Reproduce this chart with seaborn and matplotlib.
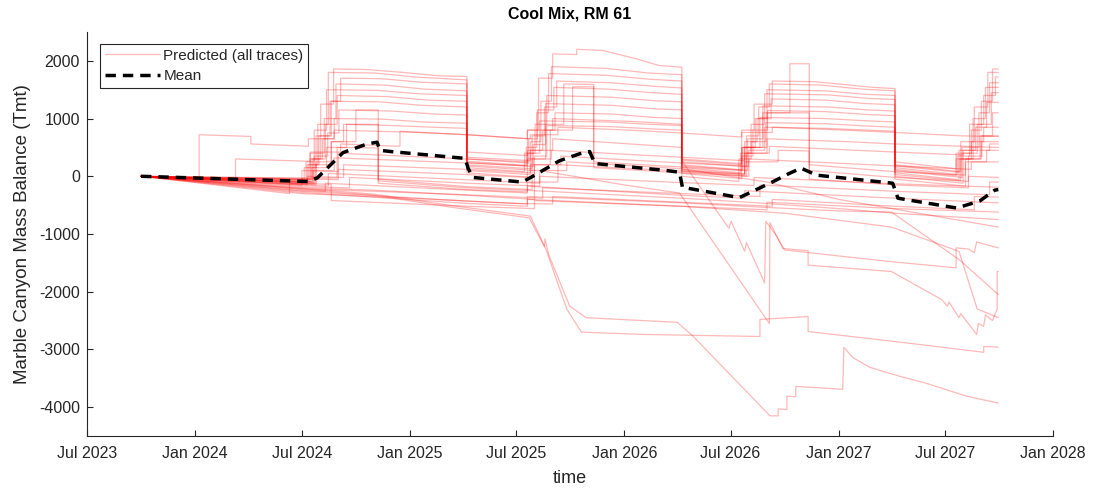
import matplotlib
matplotlib.use("Agg")
import matplotlib.pyplot as plt
import matplotlib.dates as mdates
from matplotlib.lines import Line2D
import pandas as pd
import seaborn as sns

# ---- predicted mass-balance traces: (yy-mm-dd, Tmt) breakpoints ----
trace_h1 = [("23-10-01", 0), ("24-07-18", -60), ("24-07-18", 300), ("24-08-02", 300), ("24-08-02", 1250),
            ("24-08-24", 1250), ("24-08-24", 1860), ("24-10-20", 1850), ("24-12-20", 1800), ("25-02-20", 1740),
            ("25-04-08", 1730), ("25-04-08", 420), ("25-07-20", 360), ("25-07-20", 800), ("25-08-08", 800),
            ("25-08-08", 1700), ("25-09-01", 1700), ("25-09-01", 2120), ("25-10-12", 2110), ("25-10-12", 2200),
            ("25-11-25", 2180), ("26-01-20", 2040), ("26-03-01", 1920), ("26-04-09", 1890), ("26-04-09", 300),
            ("26-07-20", 220), ("26-07-20", 800), ("26-08-10", 800), ("26-08-10", 1250), ("26-09-10", 1250),
            ("26-09-10", 1650), ("26-11-20", 1640), ("27-01-20", 1580), ("27-03-01", 1540), ("27-04-07", 1520),
            ("27-04-07", 250), ("27-07-20", 130), ("27-07-20", 400), ("27-08-15", 400), ("27-08-15", 800),
            ("27-09-01", 800), ("27-09-01", 1300), ("27-09-20", 1300), ("27-09-20", 1860), ("27-09-30", 1860)]
trace_h2 = [("23-10-01", 0), ("24-07-12", -70), ("24-07-12", 200), ("24-07-28", 200), ("24-07-28", 900),
            ("24-08-15", 900), ("24-08-15", 1800), ("24-11-01", 1790), ("25-01-10", 1720), ("25-04-08", 1670),
            ("25-04-08", 330), ("25-07-25", 270), ("25-07-25", 600), ("25-08-12", 600), ("25-08-12", 1300),
            ("25-08-30", 1300), ("25-08-30", 1900), ("25-12-01", 1870), ("26-02-10", 1790), ("26-04-09", 1760),
            ("26-04-09", 250), ("26-07-28", 170), ("26-07-28", 700), ("26-08-18", 700), ("26-08-18", 1200),
            ("26-09-05", 1200), ("26-09-05", 1600), ("26-12-01", 1580), ("27-02-10", 1510), ("27-04-07", 1480),
            ("27-04-07", 200), ("27-07-28", 80), ("27-07-28", 600), ("27-08-20", 600), ("27-08-20", 1200),
            ("27-09-12", 1200), ("27-09-12", 1800), ("27-09-30", 1800)]
trace_h3 = [("23-10-01", 0), ("24-07-05", -40), ("24-07-05", 150), ("24-07-25", 150), ("24-07-25", 700),
            ("24-08-20", 700), ("24-08-20", 1300), ("24-09-05", 1300), ("24-09-05", 1700), ("24-11-15", 1690),
            ("25-01-20", 1630), ("25-04-08", 1600), ("25-04-08", 260), ("25-07-18", 190), ("25-07-18", 500),
            ("25-08-05", 500), ("25-08-05", 1100), ("25-08-25", 1100), ("25-08-25", 1780), ("25-12-01", 1750),
            ("26-02-15", 1680), ("26-04-09", 1650), ("26-04-09", 200), ("26-07-22", 110), ("26-07-22", 500),
            ("26-08-12", 500), ("26-08-12", 1000), ("26-09-01", 1000), ("26-09-01", 1500), ("26-12-10", 1480),
            ("27-02-15", 1420), ("27-04-07", 1400), ("27-04-07", 150), ("27-07-22", 30), ("27-07-22", 350),
            ("27-08-12", 350), ("27-08-12", 900), ("27-09-05", 900), ("27-09-05", 1400), ("27-09-25", 1400),
            ("27-09-25", 1720), ("27-09-30", 1720)]
trace_h4 = [("23-10-01", 0), ("24-07-15", -90), ("24-07-15", 400), ("24-08-08", 400), ("24-08-08", 1000),
            ("24-08-28", 1000), ("24-08-28", 1600), ("24-11-20", 1580), ("25-01-25", 1510), ("25-04-08", 1480),
            ("25-04-08", 200), ("25-07-28", 130), ("25-07-28", 700), ("25-08-18", 700), ("25-08-18", 1200),
            ("25-09-08", 1200), ("25-09-08", 1650), ("25-12-10", 1620), ("26-02-20", 1560), ("26-04-09", 1530),
            ("26-04-09", 150), ("26-07-18", 60), ("26-07-18", 400), ("26-08-05", 400), ("26-08-05", 900),
            ("26-08-28", 900), ("26-08-28", 1430), ("26-12-15", 1410), ("27-02-20", 1350), ("27-04-07", 1330),
            ("27-04-07", 100), ("27-07-30", -20), ("27-07-30", 500), ("27-08-28", 500), ("27-08-28", 1100),
            ("27-09-15", 1100), ("27-09-15", 1620), ("27-09-30", 1620)]
trace_h5 = [("23-10-01", 0), ("24-07-08", -30), ("24-07-08", 250), ("24-07-22", 250), ("24-07-22", 800),
            ("24-08-12", 800), ("24-08-12", 1500), ("24-11-05", 1490), ("25-01-15", 1430), ("25-04-08", 1400),
            ("25-04-08", 300), ("25-07-22", 230), ("25-07-22", 650), ("25-08-06", 650), ("25-08-06", 1150),
            ("25-09-03", 1150), ("25-09-03", 1540), ("25-12-05", 1510), ("26-02-15", 1450), ("26-04-09", 1420),
            ("26-04-09", 100), ("26-07-25", 20), ("26-07-25", 600), ("26-08-15", 600), ("26-08-15", 1000),
            ("26-09-08", 1000), ("26-09-08", 1340), ("26-12-10", 1320), ("27-02-15", 1260), ("27-04-07", 1240),
            ("27-04-07", 60), ("27-07-25", -60), ("27-07-25", 300), ("27-08-18", 300), ("27-08-18", 1000),
            ("27-09-08", 1000), ("27-09-08", 1540), ("27-09-30", 1540)]
trace_h6 = [("23-10-01", 0), ("24-07-20", -110), ("24-07-20", 300), ("24-08-10", 300), ("24-08-10", 900),
            ("24-08-30", 900), ("24-08-30", 1400), ("24-11-25", 1380), ("25-02-01", 1320), ("25-04-08", 1300),
            ("25-04-08", 150), ("25-07-15", 80), ("25-07-15", 400), ("25-08-02", 400), ("25-08-02", 900),
            ("25-08-22", 900), ("25-08-22", 1400), ("25-12-10", 1370), ("26-02-20", 1310), ("26-04-09", 1290),
            ("26-04-09", 180), ("26-07-30", 100), ("26-07-30", 650), ("26-08-25", 650), ("26-08-25", 1220),
            ("26-12-15", 1200), ("27-02-20", 1150), ("27-04-07", 1130), ("27-04-07", 0), ("27-08-01", -120),
            ("27-08-01", 400), ("27-08-25", 400), ("27-08-25", 900), ("27-09-18", 900), ("27-09-18", 1450),
            ("27-09-30", 1450)]
trace_h7 = [("23-10-01", 0), ("24-07-10", -60), ("24-07-10", 200), ("24-07-30", 200), ("24-07-30", 700),
            ("24-08-18", 700), ("24-08-18", 1300), ("24-11-10", 1290), ("25-01-20", 1230), ("25-04-08", 1200),
            ("25-04-08", 240), ("25-07-30", 170), ("25-07-30", 550), ("25-08-20", 550), ("25-08-20", 1260),
            ("25-12-10", 1230), ("26-02-20", 1170), ("26-04-09", 1150), ("26-04-09", 50), ("26-07-20", -40),
            ("26-07-20", 350), ("26-08-08", 350), ("26-08-08", 800), ("26-09-02", 800), ("26-09-02", 1140),
            ("26-12-10", 1120), ("27-02-20", 1070), ("27-04-07", 1050), ("27-04-07", 180), ("27-07-25", 70),
            ("27-07-25", 450), ("27-08-22", 450), ("27-08-22", 850), ("27-09-10", 850), ("27-09-10", 1280),
            ("27-09-30", 1280)]
trace_h8 = [("23-10-01", 0), ("24-07-22", -130), ("24-07-22", 350), ("24-08-14", 350), ("24-08-14", 750),
            ("24-09-02", 750), ("24-09-02", 1150), ("24-12-01", 1130), ("25-02-10", 1080), ("25-04-08", 1060),
            ("25-04-08", 100), ("25-07-25", 30), ("25-07-25", 450), ("25-08-15", 450), ("25-08-15", 800),
            ("25-09-05", 800), ("25-09-05", 1100), ("25-12-10", 1080), ("26-02-20", 1020), ("26-04-09", 1000),
            ("26-04-09", 120), ("26-07-25", 40), ("26-07-25", 500), ("26-08-20", 500), ("26-08-20", 1020),
            ("26-12-10", 1000), ("27-02-20", 960), ("27-04-07", 940), ("27-04-07", -50), ("27-08-05", -170),
            ("27-08-05", 300), ("27-08-30", 300), ("27-08-30", 700), ("27-09-20", 700), ("27-09-20", 1100),
            ("27-09-30", 1100)]
trace_h9 = [("23-10-01", 0), ("24-07-15", -50), ("24-07-15", 300), ("24-08-05", 300), ("24-08-05", 650),
            ("24-08-25", 650), ("24-08-25", 1000), ("24-11-15", 990), ("25-01-25", 940), ("25-04-08", 920),
            ("25-04-08", 180), ("25-07-20", 110), ("25-07-20", 400), ("25-08-10", 400), ("25-08-10", 960),
            ("25-12-05", 940), ("26-02-15", 900), ("26-04-09", 880), ("26-04-09", 0), ("26-07-15", -90),
            ("26-07-15", 300), ("26-08-05", 300), ("26-08-05", 600), ("26-08-30", 600), ("26-08-30", 930),
            ("26-12-10", 910), ("27-02-20", 870), ("27-04-07", 850), ("27-04-07", 120), ("27-07-20", 10),
            ("27-07-20", 300), ("27-08-15", 300), ("27-08-15", 600), ("27-09-05", 600), ("27-09-05", 850),
            ("27-09-30", 850)]
trace_h10 = [("23-10-01", 0), ("24-07-25", -150), ("24-07-25", 250), ("24-08-20", 250), ("24-08-20", 600),
             ("24-09-10", 600), ("24-09-10", 900), ("24-12-01", 880), ("25-02-10", 850), ("25-04-08", 830),
             ("25-04-08", 60), ("25-08-01", -20), ("25-08-01", 350), ("25-08-22", 350), ("25-08-22", 880),
             ("25-12-10", 860), ("26-02-20", 820), ("26-04-09", 800), ("26-04-09", 80), ("26-08-01", 0),
             ("26-08-01", 450), ("26-08-28", 450), ("26-08-28", 850), ("26-12-10", 830), ("27-02-20", 800),
             ("27-04-07", 780), ("27-04-07", 30), ("27-08-10", -90), ("27-08-10", 350), ("27-09-02", 350),
             ("27-09-02", 700), ("27-09-30", 700)]
trace_m1 = [("23-10-01", 0), ("24-07-25", -120), ("24-07-25", 200), ("24-08-20", 200), ("24-08-20", 600),
            ("24-10-01", 600), ("24-10-01", 1150), ("24-11-08", 1150), ("24-11-08", -50), ("25-04-08", -180),
            ("25-07-28", -230), ("25-07-28", 300), ("25-08-20", 300), ("25-08-20", 900), ("25-09-20", 900),
            ("25-09-20", 1600), ("25-11-10", 1590), ("25-11-10", 150), ("26-04-09", 60), ("26-07-28", 0),
            ("26-07-28", 400), ("26-09-01", 400), ("26-09-01", 1100), ("26-10-10", 1100), ("26-10-10", 1950),
            ("26-11-12", 1950), ("26-11-12", 100), ("27-04-07", -20), ("27-07-28", -80), ("27-07-28", 300),
            ("27-09-01", 300), ("27-09-01", 600), ("27-09-30", 600)]
trace_m2 = [("23-10-01", 0), ("24-07-18", -90), ("24-07-18", 150), ("24-08-12", 150), ("24-08-12", 500),
            ("24-09-15", 500), ("24-09-15", 900), ("24-11-08", 900), ("24-11-08", -80), ("25-04-08", -200),
            ("25-08-01", -250), ("25-08-01", 200), ("25-08-28", 200), ("25-08-28", 800), ("25-10-05", 800),
            ("25-10-05", 1550), ("25-11-10", 1550), ("25-11-10", 250), ("26-04-09", 160), ("26-07-20", 100),
            ("26-07-20", 500), ("26-08-25", 500), ("26-08-25", 1100), ("26-11-12", 1100), ("26-11-12", 200),
            ("27-04-07", 80), ("27-08-05", 20), ("27-08-05", 250), ("27-09-10", 250), ("27-09-10", 450),
            ("27-09-30", 450)]
trace_m3 = [("23-10-01", 0), ("24-01-08", -30), ("24-01-08", 720), ("24-04-05", 690), ("24-04-05", 560),
            ("24-07-12", 520), ("24-07-12", 650), ("24-08-25", 650), ("24-08-25", 800), ("25-01-15", 760),
            ("25-04-08", 720), ("25-07-20", 650), ("25-07-20", 800), ("25-09-01", 800), ("25-09-01", 1000),
            ("26-01-15", 950), ("26-04-09", 900), ("26-04-09", 280), ("26-07-20", 200), ("26-07-20", 500),
            ("26-09-01", 500), ("26-09-01", 650), ("27-01-15", 600), ("27-04-07", 560), ("27-09-30", 500)]
trace_m4 = [("23-10-01", 0), ("24-03-10", -60), ("24-03-10", 300), ("24-07-15", 260), ("24-07-15", 420),
            ("24-09-05", 420), ("24-09-05", 560), ("24-12-15", 520), ("24-12-15", 780), ("25-04-08", 720),
            ("25-07-25", 650), ("25-07-25", 720), ("25-09-10", 720), ("25-09-10", 850), ("26-01-10", 800),
            ("26-04-09", 750), ("26-07-20", 680), ("26-07-20", 760), ("26-09-10", 760), ("26-09-10", 850),
            ("27-01-10", 800), ("27-04-07", 760), ("27-07-30", 700), ("27-09-30", 690)]
trace_m5 = [("23-10-01", 0), ("24-07-20", -100), ("24-07-20", 100), ("24-08-25", 100), ("24-08-25", 320),
            ("25-04-08", 230), ("25-07-20", 180), ("25-07-20", 300), ("25-08-30", 300), ("25-08-30", 450),
            ("26-04-09", 330), ("26-07-25", 270), ("26-07-25", 400), ("26-09-05", 400), ("26-09-05", 520),
            ("27-04-07", 420), ("27-08-01", 370), ("27-08-01", 450), ("27-09-15", 450), ("27-09-15", 560),
            ("27-09-30", 560)]
trace_m6 = [("23-10-01", 0), ("24-07-10", -150), ("24-07-10", -30), ("24-08-30", -30), ("24-08-30", 500),
            ("24-11-08", 490), ("24-11-08", -120), ("25-04-08", -230), ("25-07-20", -270), ("25-07-20", -100),
            ("25-09-10", -100), ("25-09-10", 200), ("26-04-09", 90), ("26-07-25", 40), ("26-07-25", 250),
            ("26-09-20", 250), ("26-09-20", 450), ("26-11-12", 440), ("26-11-12", -50), ("27-04-07", -150),
            ("27-08-10", -200), ("27-08-10", 0), ("27-09-30", -20)]
trace_l1 = [("23-10-01", 0), ("24-07-10", -130), ("24-07-10", 0), ("24-09-10", -20), ("24-09-10", 200),
            ("25-04-08", 120), ("25-07-25", 60), ("25-07-25", 200), ("25-09-15", 200), ("25-09-15", 350),
            ("26-04-09", 230), ("26-08-01", 170), ("26-08-01", 300), ("27-04-07", 180), ("27-08-15", 120),
            ("27-08-15", 250), ("27-09-30", 250)]
trace_l2 = [("23-10-01", 0), ("24-07-01", -180), ("24-09-20", -200), ("24-09-20", -20), ("25-04-08", -120),
            ("25-08-10", -170), ("25-08-10", 0), ("26-04-09", -110), ("26-08-10", -160), ("26-08-10", -20),
            ("27-04-07", -130), ("27-09-30", -190)]
trace_l3 = [("23-10-01", 0), ("24-07-01", -220), ("24-11-01", -260), ("25-04-08", -320), ("25-08-15", -380),
            ("25-08-15", -200), ("26-04-09", -300), ("26-08-20", -350), ("26-08-20", -150), ("27-04-07", -260),
            ("27-09-15", -320), ("27-09-15", -100), ("27-09-30", -100)]
trace_l4 = [("23-10-01", 0), ("24-07-01", -250), ("24-08-10", -260), ("24-08-10", -120), ("25-04-08", -240),
            ("25-07-20", -290), ("25-07-20", -170), ("26-04-09", -330), ("26-07-25", -380), ("26-07-25", -250),
            ("27-04-07", -380), ("27-09-30", -460)]
trace_l5 = [("23-10-01", 0), ("24-06-10", -300), ("24-06-10", -120), ("24-08-20", -140), ("24-08-20", -420),
            ("25-04-08", -520), ("25-08-01", -560), ("25-08-01", -420), ("26-04-09", -520), ("26-09-01", -580),
            ("26-09-01", -450), ("27-04-07", -560), ("27-09-30", -620)]
trace_l6 = [("23-10-01", 0), ("24-07-01", -300), ("25-01-01", -380), ("25-07-01", -470), ("25-09-01", -480),
            ("25-09-01", -350), ("26-04-09", -450), ("26-09-10", -520), ("26-09-10", -400), ("27-04-07", -520),
            ("27-08-20", -580), ("27-08-20", -350), ("27-09-30", -360)]
trace_l7 = [("23-10-01", 0), ("24-07-01", -200), ("24-11-01", -240), ("25-04-08", -330), ("25-08-01", -400),
            ("25-08-01", -250), ("26-04-09", -380), ("26-08-01", -450), ("27-01-01", -560), ("27-04-07", -640),
            ("27-09-30", -750)]
trace_l8 = [("23-10-01", 0), ("24-07-01", -160), ("24-07-01", -40), ("24-09-01", -60), ("24-09-01", 120),
            ("25-04-08", 30), ("25-07-20", -20), ("25-07-20", 100), ("25-09-25", 100), ("25-09-25", 250),
            ("26-04-09", 130), ("26-09-01", -100), ("27-01-01", -400), ("27-09-30", -880)]
trace_d1 = [("23-10-01", 0), ("24-07-01", -230), ("24-11-01", -330), ("25-03-08", -530), ("25-07-23", -720),
            ("25-08-18", -1220), ("25-08-19", -1080), ("25-08-25", -1350), ("25-09-30", -2250), ("25-10-28", -2450),
            ("26-04-01", -2530), ("26-04-28", -2770), ("26-09-06", -4150), ("26-09-20", -4150), ("26-09-20", -4030),
            ("26-10-05", -4040), ("26-10-05", -3810), ("26-10-20", -3820), ("26-10-20", -3640), ("27-01-08", -3690),
            ("27-01-10", -2965), ("27-01-25", -3140), ("27-02-23", -3310), ("27-04-20", -3480), ("27-05-25", -3570),
            ("27-08-07", -3810), ("27-09-30", -3930)]
trace_d2 = [("23-10-01", 0), ("24-07-01", -210), ("24-11-01", -310), ("25-03-08", -500), ("25-07-25", -690),
            ("25-08-20", -1250), ("25-09-25", -2300), ("25-10-20", -2700), ("26-02-01", -2740), ("26-08-20", -2776),
            ("26-08-20", -2480), ("26-11-10", -2430), ("26-11-10", -2690), ("27-03-01", -2820), ("27-06-01", -2930),
            ("27-09-05", -3050), ("27-09-05", -2950), ("27-09-30", -2960)]
trace_d3 = [("23-10-01", 0), ("24-07-01", -150), ("24-08-15", -170), ("24-08-15", 50), ("25-04-08", -60),
            ("25-08-10", -120), ("25-08-10", 100), ("26-01-01", -150), ("26-04-05", -290), ("26-09-05", -2550),
            ("26-09-06", -800), ("26-09-28", -1250), ("26-11-10", -1290), ("26-11-10", -1540), ("27-01-01", -1580),
            ("27-04-01", -1650), ("27-06-26", -2140), ("27-07-05", -2250), ("27-07-08", -2180), ("27-07-25", -2450),
            ("27-07-28", -2380), ("27-08-24", -2740), ("27-08-27", -2550), ("27-09-05", -2600), ("27-09-08", -2400),
            ("27-09-20", -2500), ("27-09-28", -2300), ("27-09-28", -1650), ("27-09-30", -1650)]
trace_d4 = [("23-10-01", 0), ("24-07-01", -100), ("24-07-01", 100), ("24-09-01", 80), ("24-09-01", 400),
            ("25-04-08", 300), ("25-07-20", 250), ("25-07-20", 450), ("25-09-01", 450), ("25-09-01", 650),
            ("26-04-09", 500), ("26-04-09", 270), ("26-06-28", -900), ("26-07-02", -780), ("26-07-25", -1300),
            ("26-07-28", -1150), ("26-08-28", -1850), ("26-08-30", -780), ("26-09-15", -1000), ("26-10-01", -1276),
            ("27-01-01", -1380), ("27-04-01", -1480), ("27-07-20", -1586), ("27-07-20", -1240), ("27-08-10", -1260),
            ("27-08-20", -1320), ("27-08-24", -1140), ("27-09-30", -1240)]
trace_d5 = [("23-10-01", 0), ("24-07-01", -260), ("25-04-08", -430), ("25-07-20", -480), ("25-07-20", -350),
            ("26-04-09", -460), ("26-09-01", -540), ("27-01-01", -600), ("27-04-01", -620), ("27-07-26", -1450),
            ("27-09-30", -2050)]
trace_d6 = [("23-10-01", 0), ("24-07-01", -280), ("25-04-08", -470), ("25-07-20", -520), ("25-07-20", -400),
            ("26-04-09", -520), ("26-10-01", -640), ("27-04-01", -880), ("27-07-25", -1300), ("27-08-25", -2300),
            ("27-09-30", -2450)]

# ---- ensemble mean ----
mean_pts = [("23-10-01", 0), ("24-07-11", -90), ("24-07-27", -30), ("24-09-09", 410), ("24-10-20", 560),
            ("24-11-06", 590), ("24-11-11", 450), ("24-11-28", 430), ("25-04-05", 310), ("25-04-10", 140),
            ("25-04-18", -20), ("25-07-11", -100), ("25-07-24", -30), ("25-09-13", 270), ("25-10-17", 390),
            ("25-11-03", 430), ("25-11-12", 220), ("26-03-14", 100), ("26-04-05", 70), ("26-04-10", -190),
            ("26-07-16", -370), ("26-09-10", -100), ("26-10-09", 50), ("26-10-29", 140), ("26-11-07", 100),
            ("26-11-24", 20), ("27-04-03", -120), ("27-04-12", -380), ("27-07-21", -550), ("27-08-29", -430),
            ("27-09-24", -240), ("27-09-30", -230)]

x_ticks = ["2023-07-01", "2024-01-01", "2024-07-01", "2025-01-01", "2025-07-01",
           "2026-01-01", "2026-07-01", "2027-01-01", "2027-07-01", "2028-01-01"]
y_ticks = [-4000, -3000, -2000, -1000, 0, 1000, 2000]

all_traces = [trace_h1, trace_h2, trace_h3, trace_h4, trace_h5, trace_h6, trace_h7, trace_h8, trace_h9,
              trace_h10, trace_m1, trace_m2, trace_m3, trace_m4, trace_m5, trace_m6, trace_l1, trace_l2,
              trace_l3, trace_l4, trace_l5, trace_l6, trace_l7, trace_l8, trace_d1, trace_d2, trace_d3,
              trace_d4, trace_d5, trace_d6]

rows = []
for i, tr in enumerate(all_traces):
    for d, v in tr:
        rows.append((i, d, v))
traces = pd.DataFrame(rows, columns=["trace", "date", "value"])
traces["date"] = pd.to_datetime(traces["date"], format="%y-%m-%d")
mean_df = pd.DataFrame(mean_pts, columns=["date", "value"])
mean_df["date"] = pd.to_datetime(mean_df["date"], format="%y-%m-%d")

sns.set_theme(style="white")
plt.rcParams["font.family"] = ["Liberation Sans", "DejaVu Sans"]
plt.rcParams["axes.unicode_minus"] = False
ink = "#262626"

fig = plt.figure(figsize=(10.94, 4.90), dpi=100)
ax = fig.add_axes([0.0795, 0.1102, 0.883, 0.8245])

trace_color = (1.0, 0.0, 0.0)
sns.lineplot(data=traces, x="date", y="value", units="trace", estimator=None, sort=False,
             color=trace_color, alpha=0.28, lw=0.9, legend=False, ax=ax)
sns.lineplot(data=mean_df, x="date", y="value", sort=False, color="black", lw=2.5,
             linestyle=(0, (3.0, 2.0)), legend=False, ax=ax)

ax.set_xlim(pd.Timestamp("2023-07-01"), pd.Timestamp("2028-01-01"))
ax.set_ylim(-4500, 2500)
ax.set_xticks(pd.to_datetime(x_ticks))
ax.xaxis.set_major_formatter(mdates.DateFormatter("%b %Y"))
ax.set_yticks(y_ticks)

for side in ("top", "right"):
    ax.spines[side].set_visible(False)
for side in ("left", "bottom"):
    ax.spines[side].set_color(ink)
    ax.spines[side].set_linewidth(0.8)
ax.tick_params(bottom=True, left=True, top=False, right=False, direction="in",
               length=4, width=0.8, colors=ink, labelsize=11.5)
ax.tick_params(axis="x", pad=7)
ax.tick_params(axis="y", pad=5)

ax.set_xlabel("time", fontsize=13, color=ink, labelpad=7)
ax.set_ylabel("Marble Canyon Mass Balance (Tmt)", fontsize=13.5, color=ink, labelpad=6)
ax.set_title("Cool Mix, RM 61", fontsize=11.5, fontweight="bold", color="black", pad=10)

handles = [Line2D([], [], color=trace_color, alpha=0.28, lw=0.9),
           Line2D([], [], color="black", lw=2.5, linestyle=(0, (3.0, 2.0)))]
leg = ax.legend(handles, ["Predicted (all traces)", "Mean"], loc="upper left",
                bbox_to_anchor=(0.0135, 0.970), borderaxespad=0, fontsize=11,
                frameon=True, fancybox=False, framealpha=1, edgecolor=ink,
                handlelength=3.6, handletextpad=0.25, labelspacing=0.42, borderpad=0.3)
leg.get_frame().set_linewidth(0.8)
for t in leg.get_texts():
    t.set_color(ink)

fig.savefig("out.png", dpi=100)
